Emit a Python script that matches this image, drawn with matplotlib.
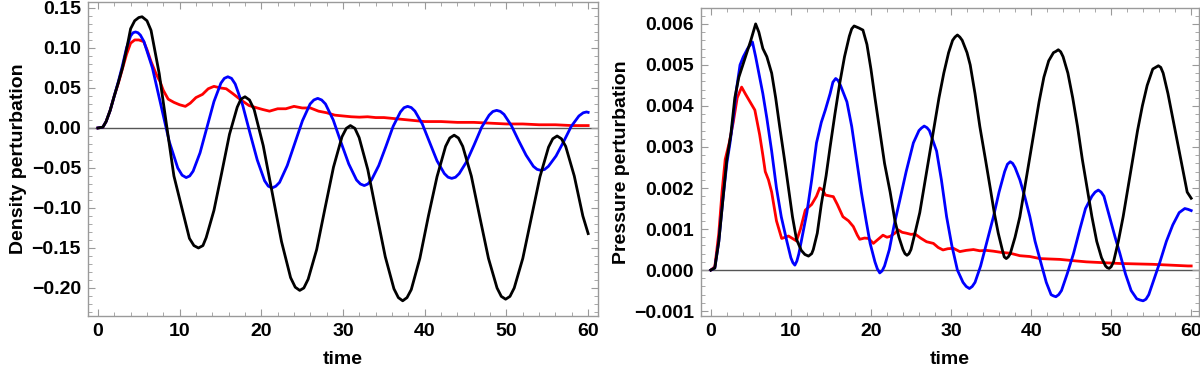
import numpy as np
import matplotlib
matplotlib.use("Agg")
import matplotlib.pyplot as plt
from matplotlib.ticker import MultipleLocator, FuncFormatter

plt.rcParams['font.family'] = ['Liberation Sans', 'DejaVu Sans']
plt.rcParams['font.weight'] = 'bold'

# ---- density perturbation (left panel) ----
t_rho_black = [0, 0.6, 1.0, 1.5, 2.0, 2.5, 3.0, 3.5, 4.0, 4.5, 5.0, 5.4, 6.0, 6.5, 7.5, 8.45, 9.3,
               10.2, 11.2, 11.75, 12.3, 12.85, 13.25, 14.2, 15.15, 16.1, 17.05, 17.5, 18.0, 18.55,
               19.12, 20.23, 21.35, 22.47, 23.58, 24.15, 24.7, 25.2, 25.73, 26.77, 27.8, 28.83,
               29.87, 30.4, 30.9, 31.45, 31.97, 33.03, 34.1, 35.17, 36.23, 36.77, 37.3, 37.83,
               38.35, 39.4, 40.45, 41.5, 42.55, 43.07, 43.6, 44.12, 44.65, 45.7, 46.75, 47.8,
               48.85, 49.37, 49.9, 50.43, 50.95, 52.0, 53.05, 54.1, 55.15, 55.67, 56.2, 56.73,
               57.25, 58.3, 59.35, 60]
v_rho_black = [0, 0.001, 0.008, 0.022, 0.040, 0.057, 0.075, 0.098, 0.124, 0.134, 0.138, 0.139,
               0.134, 0.122, 0.068, 0.0, -0.060, -0.097, -0.138, -0.147, -0.150, -0.147, -0.137,
               -0.103, -0.056, -0.008, 0.026, 0.036, 0.039, 0.035, 0.023, -0.022, -0.082,
               -0.142, -0.187, -0.199, -0.203, -0.200, -0.189, -0.152, -0.100, -0.049, -0.011,
               -0.0005, 0.003, -0.0005, -0.012, -0.052, -0.107, -0.161, -0.201, -0.212, -0.216,
               -0.212, -0.202, -0.163, -0.110, -0.061, -0.023, -0.0125, -0.009, -0.0125, -0.023,
               -0.060, -0.112, -0.163, -0.200, -0.2105, -0.214, -0.2105, -0.200, -0.163, -0.112,
               -0.061, -0.024, -0.0135, -0.010, -0.0135, -0.023, -0.060, -0.110, -0.132]

t_rho_blue = [0, 0.6, 1.0, 1.5, 2.0, 2.5, 3.0, 3.5, 4.0, 4.3, 4.6, 4.9, 5.2, 5.63, 6.67, 7.7,
              8.73, 9.77, 10.3, 10.8, 11.23, 11.65, 12.5, 13.35, 14.2, 15.05, 15.47, 15.9, 16.35,
              16.8, 17.7, 18.6, 19.5, 20.4, 20.85, 21.3, 21.77, 22.23, 23.17, 24.1, 25.03, 25.97,
              26.43, 26.9, 27.38, 27.85, 28.8, 29.75, 30.7, 31.65, 32.12, 32.6, 33.04, 33.48,
              34.37, 35.25, 36.13, 37.02, 37.46, 37.9, 38.35, 38.8, 39.7, 40.6, 41.5, 42.4,
              42.85, 43.3, 43.76, 44.22, 45.13, 46.05, 46.97, 47.88, 48.34, 48.8, 49.25, 49.7,
              50.6, 51.5, 52.4, 53.3, 53.75, 54.2, 54.67, 55.13, 56.07, 57.0, 57.93, 58.87,
              59.4, 59.8, 60]
v_rho_blue = [0, 0.001, 0.008, 0.022, 0.040, 0.058, 0.078, 0.100, 0.115, 0.119, 0.120, 0.119,
              0.116, 0.108, 0.075, 0.029, -0.017, -0.050, -0.059, -0.062, -0.060, -0.054,
              -0.031, 0.001, 0.033, 0.056, 0.062, 0.064, 0.062, 0.055, 0.029, -0.006, -0.040,
              -0.066, -0.0727, -0.075, -0.0728, -0.068, -0.047, -0.019, 0.009, 0.030, 0.035,
              0.037, 0.035, 0.030, 0.010, -0.018, -0.045, -0.065, -0.070, -0.072, -0.070,
              -0.065, -0.047, -0.023, 0.002, 0.020, 0.0253, 0.027, 0.0255, 0.021, 0.005,
              -0.018, -0.041, -0.057, -0.0615, -0.063, -0.0616, -0.057, -0.042, -0.021, 0.001,
              0.016, 0.0206, 0.022, 0.0207, 0.017, 0.003, -0.016, -0.034, -0.048, -0.0517,
              -0.053, -0.0518, -0.048, -0.035, -0.017, 0.002, 0.015, 0.0190, 0.020, 0.0195]

t_rho_red = [0, 0.6, 1.0, 1.5, 2.0, 2.5, 3.0, 3.5, 4.0, 4.5, 5.0, 5.6, 6.0, 6.5, 7.1, 7.6, 8.0,
             8.6, 9.3, 10.0, 10.7, 11.3, 12.0, 12.8, 13.5, 14.2, 15.0, 15.7, 16.5, 17.5, 18.5,
             19.5, 20.2, 21.0, 22.0, 23.0, 24.0, 25.0, 26.0, 27.0, 28.0, 29.0, 30.0, 31, 32,
             33, 34, 35, 36, 37, 38, 39, 40, 42, 44, 46, 48, 50, 52, 54, 56, 58, 60]
v_rho_red = [0, 0.001, 0.008, 0.022, 0.040, 0.056, 0.074, 0.092, 0.106, 0.110, 0.110, 0.108,
             0.098, 0.083, 0.068, 0.058, 0.047, 0.036, 0.032, 0.029, 0.027, 0.031, 0.038,
             0.042, 0.049, 0.052, 0.050, 0.049, 0.043, 0.035, 0.028, 0.025, 0.023, 0.021,
             0.024, 0.024, 0.027, 0.025, 0.025, 0.021, 0.019, 0.016, 0.015, 0.014, 0.0135,
             0.014, 0.013, 0.013, 0.012, 0.011, 0.010, 0.009, 0.008, 0.008, 0.007, 0.007,
             0.006, 0.005, 0.005, 0.004, 0.004, 0.003, 0.003]

# ---- pressure perturbation (right panel) ----
t_p_black = [0, 0.5, 1.0, 1.5, 2.0, 2.5, 3.0, 3.5, 4.0, 4.5, 5.0, 5.6, 6.0, 6.5, 7.0, 7.6, 8.1,
             8.6, 9.2, 9.7, 10.2, 10.7, 11.3, 11.75, 12.2, 12.6, 12.8, 13.3, 13.8, 14.4, 14.9,
             15.5, 16.1, 16.7, 17.3, 17.6, 17.9, 18.5, 19.0, 19.5, 20.0, 20.5, 21.1, 21.7,
             22.4, 23.0, 23.5, 24.0, 24.25, 24.5, 24.75, 25.0, 25.5, 26.1, 26.7, 27.3, 27.9,
             28.5, 29.1, 29.7, 30.2, 30.5, 30.8, 31.1, 31.4, 32.0, 32.4, 33.0, 33.6, 34.3,
             34.9, 35.4, 35.9, 36.4, 36.65, 36.9, 37.15, 37.4, 38.0, 38.6, 39.2, 39.8, 40.4,
             41.0, 41.6, 42.2, 42.8, 43.1, 43.4, 43.7, 44.0, 44.6, 45.2, 45.8, 46.4, 47.0,
             47.6, 48.2, 48.8, 49.3, 49.5, 49.75, 50.0, 50.3, 50.9, 51.5, 52.1, 52.7, 53.3,
             53.9, 54.5, 55.2, 55.55, 55.9, 56.2, 56.5, 57.1, 57.7, 58.3, 58.9, 59.5, 60]
v_p_black = [0, 0.00005, 0.0007, 0.0017, 0.0027, 0.0033, 0.0042, 0.0047, 0.0050, 0.0053,
             0.0056, 0.0060, 0.0058, 0.0054, 0.0052, 0.0048, 0.0042, 0.0035, 0.0027, 0.0020,
             0.0013, 0.00075, 0.00048, 0.00038, 0.00034, 0.00040, 0.0005, 0.0009, 0.0016,
             0.0023, 0.0030, 0.0038, 0.00455, 0.0052, 0.0057, 0.00588, 0.00595, 0.0059,
             0.00585, 0.0055, 0.0049, 0.0042, 0.0034, 0.0026, 0.0019, 0.0012, 0.0008, 0.0005,
             0.00040, 0.00036, 0.00040, 0.0005, 0.0009, 0.0014, 0.0021, 0.0028, 0.0035, 0.0042,
             0.0048, 0.0053, 0.0056, 0.00568, 0.00573, 0.00568, 0.0056, 0.0053, 0.0050, 0.0043,
             0.0035, 0.0027, 0.0020, 0.0014, 0.0009, 0.0005, 0.00032, 0.00028, 0.00032, 0.0004,
             0.0008, 0.0013, 0.0020, 0.0027, 0.0034, 0.0041, 0.0047, 0.0051, 0.0053, 0.00533,
             0.00537, 0.00532, 0.0052, 0.0048, 0.0042, 0.0035, 0.0027, 0.0020, 0.0013, 0.0007,
             0.0003, 0.0001, 0.00006, 0.00004, 0.00008, 0.0002, 0.0007, 0.0013, 0.0020, 0.0027,
             0.0034, 0.0040, 0.0045, 0.0049, 0.00494, 0.00498, 0.00494, 0.0048, 0.0043, 0.0037,
             0.0031, 0.0025, 0.0019, 0.00175]

t_p_blue = [0, 0.5, 1.0, 1.5, 2.0, 2.4, 2.8, 3.2, 3.65, 4.06, 4.6, 5.2, 5.6, 6.0, 6.5, 7.0, 7.6,
            8.2, 8.8, 9.5, 10.0, 10.25, 10.5, 10.75, 11.0, 11.5, 12.0, 12.6, 13.2, 13.8, 14.3,
            14.9, 15.25, 15.6, 15.9, 16.2, 17.0, 17.6, 18.2, 18.8, 19.4, 19.9, 20.5, 20.8,
            21.1, 21.4, 21.7, 22.3, 22.9, 23.6, 24.4, 25.3, 26.0, 26.3, 26.65, 27.0, 27.3,
            28.2, 28.8, 29.45, 30.1, 30.8, 31.5, 31.9, 32.3, 32.65, 33.0, 33.7, 34.5, 35.3,
            36.0, 36.7, 37.05, 37.4, 37.7, 38.0, 38.6, 39.2, 39.85, 40.5, 41.2, 41.9, 42.5,
            42.8, 43.1, 43.45, 43.8, 44.5, 45.3, 46.1, 46.8, 47.6, 48.0, 48.4, 48.75, 49.1,
            49.8, 50.5, 51.1, 51.8, 52.5, 53.2, 53.6, 54.0, 54.35, 54.7, 55.4, 56.1, 56.9,
            57.7, 58.5, 59.2, 59.6, 60]
v_p_blue = [0, 0.00005, 0.0007, 0.0017, 0.0026, 0.0031, 0.0037, 0.0044, 0.0050, 0.0052,
            0.0054, 0.00556, 0.0052, 0.0048, 0.0043, 0.0037, 0.0029, 0.0020, 0.0013, 0.0007,
            0.0003, 0.00018, 0.00012, 0.00022, 0.0004, 0.0009, 0.0014, 0.0022, 0.0031, 0.0036,
            0.0039, 0.0043, 0.00458, 0.00467, 0.00462, 0.0045, 0.0041, 0.0035, 0.0027, 0.0019,
            0.0012, 0.00065, 0.0002, 0.00003, -0.00007, -0.00002, 0.0001, 0.0005, 0.0011,
            0.0017, 0.0024, 0.0031, 0.0034, 0.00346, 0.00351, 0.00347, 0.0034, 0.0029, 0.0022,
            0.0013, 0.0006, 0.0, -0.0003, -0.0004, -0.00045, -0.0004, -0.0003, 0.0001, 0.0007,
            0.0013, 0.0019, 0.0024, 0.00258, 0.00264, 0.0026, 0.0025, 0.0022, 0.0018, 0.0013,
            0.0007, 0.0002, -0.0003, -0.0006, -0.00063, -0.00065, -0.0006, -0.0005, -0.0001,
            0.0004, 0.0010, 0.0015, 0.0018, 0.0019, 0.00195, 0.0019, 0.0018, 0.0013, 0.0008,
            0.0004, -0.0001, -0.0005, -0.0007, -0.00073, -0.00075, -0.00071, -0.0006, -0.0002,
            0.0002, 0.0007, 0.0011, 0.0014, 0.0015, 0.00148, 0.00145]

t_p_red = [0, 0.5, 1.0, 1.4, 1.8, 2.3, 2.8, 3.3, 3.85, 4.3, 4.9, 5.5, 6.1, 6.5, 6.8, 7.2, 7.6,
           8.2, 8.85, 9.3, 9.7, 10.2, 10.7, 11.2, 11.8, 12.6, 13.2, 13.6, 14.0, 14.3, 15.0,
           15.3, 15.8, 16.5, 17.2, 17.8, 18.3, 18.6, 19.2, 19.7, 20.3, 20.9, 21.5, 22.0, 22.4,
           23.0, 23.4, 23.9, 24.4, 25.0, 25.5, 26.2, 26.95, 27.8, 28.4, 29.0, 29.6, 30.3,
           31.1, 31.9, 32.8, 33.6, 34.4, 35.3, 36.3, 37.4, 38.6, 39.85, 41.1, 42.3, 43.6,
           45.2, 46.9, 49.0, 51.1, 53.1, 55.2, 57.4, 59.6, 60]
v_p_red = [0, 0.00008, 0.0009, 0.0019, 0.0027, 0.0031, 0.0036, 0.0042, 0.00446, 0.0043,
           0.0041, 0.0039, 0.0033, 0.0028, 0.0024, 0.0022, 0.0019, 0.0012, 0.00077, 0.0008,
           0.00083, 0.00077, 0.00071, 0.0010, 0.00146, 0.0016, 0.0018, 0.0020, 0.00195,
           0.00183, 0.0018, 0.00179, 0.0016, 0.0013, 0.0012, 0.00106, 0.00085, 0.00075,
           0.00078, 0.00077, 0.00065, 0.00075, 0.00085, 0.0008, 0.00082, 0.0009, 0.00098,
           0.00092, 0.0009, 0.00087, 0.00088, 0.00078, 0.00069, 0.00065, 0.00055, 0.00049,
           0.00052, 0.00053, 0.00045, 0.00048, 0.0005, 0.00047, 0.00048, 0.00046, 0.00043,
           0.00041, 0.00035, 0.00033, 0.00028, 0.00027, 0.00026, 0.00023, 0.0002, 0.00018,
           0.00016, 0.00015, 0.00014, 0.00012, 0.0001, 0.0001]


def style_axes(ax, ymaj, ymin, ndec):
    for s in ax.spines.values():
        s.set_color('#9a9a9a')
        s.set_linewidth(1.0)
    ax.xaxis.set_major_locator(MultipleLocator(10))
    ax.xaxis.set_minor_locator(MultipleLocator(2))
    ax.yaxis.set_major_locator(MultipleLocator(ymaj))
    ax.yaxis.set_minor_locator(MultipleLocator(ymin))
    # Mathematica-style labels with a real minus sign
    ax.yaxis.set_major_formatter(FuncFormatter(
        lambda v, pos: f"{v:.{ndec}f}".replace('-', '\u2212') if abs(v) > 1e-12 else f"{0:.{ndec}f}"))
    ax.tick_params(which='both', direction='in', top=True, right=True,
                   color='#9a9a9a', labelsize=14, pad=5)
    ax.tick_params(which='major', length=5, width=0.8)
    ax.tick_params(which='minor', length=3, width=0.6)
    ax.axhline(0, color='#555555', lw=1.0, zorder=1)
    ax.set_xlabel('time', fontsize=14, fontweight='bold', labelpad=8)


fig = plt.figure(figsize=(12, 3.73), dpi=100)

ax1 = fig.add_axes([0.0733, 0.1528, 0.425, 0.842])
ax1.plot(t_rho_red, v_rho_red, color='red', lw=2.0, zorder=3, solid_joinstyle='round')
ax1.plot(t_rho_blue, v_rho_blue, color='blue', lw=2.0, zorder=4, solid_joinstyle='round')
ax1.plot(t_rho_black, v_rho_black, color='black', lw=2.0, zorder=5, solid_joinstyle='round')
ax1.set_xlim(-1.22, 61.2)
ax1.set_ylim(-0.235, 0.1575)
style_axes(ax1, 0.05, 0.01, 2)
ax1.set_ylabel('Density perturbation', fontsize=14, fontweight='bold', labelpad=3)

ax2 = fig.add_axes([0.584, 0.1528, 0.415, 0.826])
ax2.plot(t_p_red, v_p_red, color='red', lw=2.0, zorder=3, solid_joinstyle='round')
ax2.plot(t_p_blue, v_p_blue, color='blue', lw=2.0, zorder=4, solid_joinstyle='round')
ax2.plot(t_p_black, v_p_black, color='black', lw=2.0, zorder=5, solid_joinstyle='round')
ax2.set_xlim(-1.25, 60.95)
ax2.set_ylim(-0.00112, 0.00639)
style_axes(ax2, 0.001, 0.0002, 3)
ax2.set_ylabel('Pressure perturbation', fontsize=14, fontweight='bold', labelpad=3)

fig.savefig('out.png', dpi=100)
